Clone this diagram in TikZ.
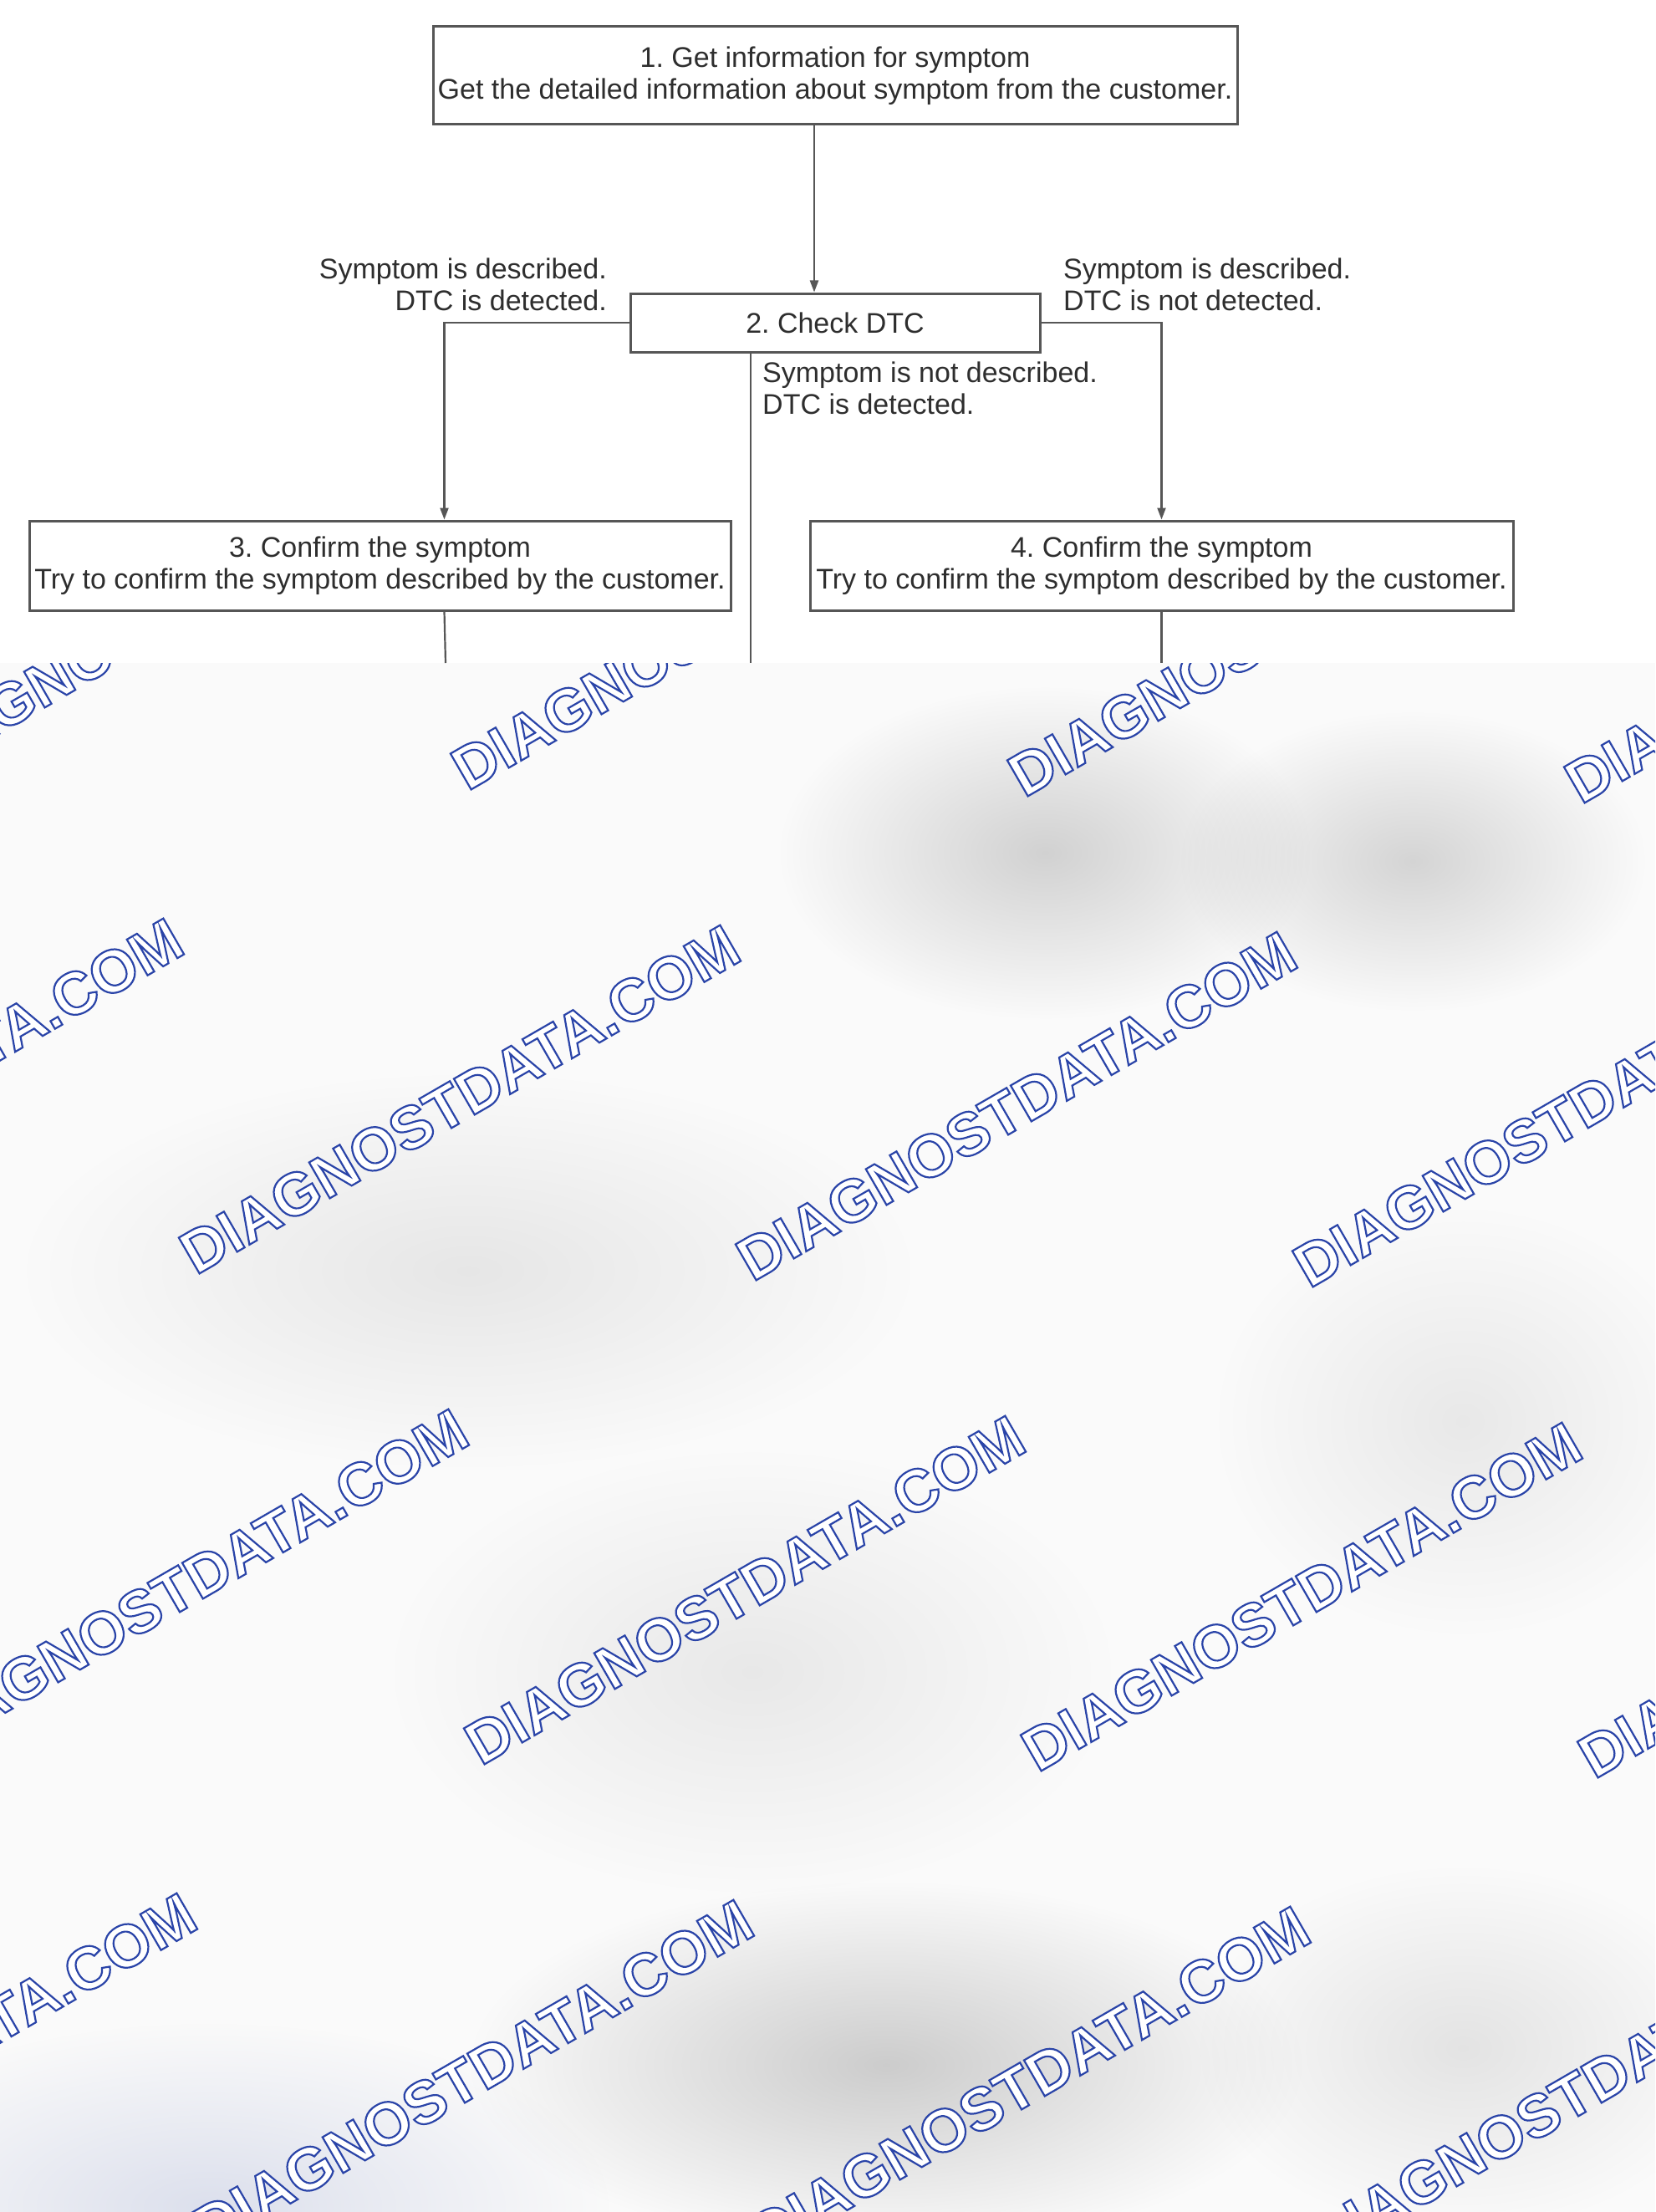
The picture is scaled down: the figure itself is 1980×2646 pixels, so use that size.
\documentclass[tikz,border=0pt]{standalone}
\usepackage{fontspec}
\setmainfont{Liberation Sans}
\usetikzlibrary{arrows.meta,calc,fadings}
\tikzfading[name=softblob, inner color=transparent!0, outer color=transparent!100]
\frenchspacing
\definecolor{txt}{HTML}{2E2E2E}
\definecolor{edge}{HTML}{565656}
\definecolor{bgc}{HTML}{FAFAFA}
\definecolor{blobb}{HTML}{B8C0DC}
\definecolor{wm}{HTML}{2A44A8}
\newcommand{\wmark}{\special{pdf:literal direct 2 Tr 2.2 w 0.165 0.267 0.659 RG}DIAGNOSTDATA.COM\special{pdf:literal direct 0 Tr}}
\begin{document}
\begin{tikzpicture}[x=1pt,y=-1pt,
  box/.style={draw=edge, line width=3pt, fill=white, text=txt, align=center, inner sep=0pt, font=\fontsize{34}{38}\selectfont},
  lbl/.style={text=txt, inner sep=0pt, font=\fontsize{34}{38}\selectfont},
  conn/.style={draw=edge, line width=2.2pt},
  arr/.style={conn, -{Triangle[length=14pt,width=10pt]}},
  blobfill/.style={fill=black, path fading=softblob},
  wmtext/.style={font=\fontsize{72}{72}\selectfont\bfseries, rotate=30, inner sep=0pt, text=white}]
\useasboundingbox (0,0) rectangle (1980,2646);
\fill[white] (0,0) rectangle (1980,793);
\fill[bgc] (0,793) rectangle (1980,2646);
\begin{scope}
\clip (0,793) rectangle (1980,2646);
\fill[blobfill, opacity=0.16] (1250,1020) ellipse (320 and 200);
\fill[blobfill, opacity=0.15] (1690,1030) ellipse (280 and 180);
\fill[blobfill, opacity=0.08] (560,1520) ellipse (540 and 240);
\fill[blobfill, opacity=0.07] (900,2000) ellipse (440 and 270);
\fill[blobfill, opacity=0.07] (1750,1700) ellipse (300 and 260);
\fill[blobfill, opacity=0.18] (1060,2470) ellipse (500 and 220);
\fill[blobb, path fading=softblob, opacity=0.45] (250,2640) ellipse (480 and 220);
\fill[blobfill, opacity=0.09] (1750,2450) ellipse (320 and 220);
\foreach \j in {-1,0,1,2}{
  \foreach \i in {-2,...,3}{
    \pgfmathsetmacro\cx{550+666*\i+341*\j}
    \pgfmathsetmacro\cy{1315+8*\i+587*\j}
    \node[wmtext] (w\i\j) at (\cx,\cy) {\wmark};
  }
}
\end{scope}
% boxes
\node[box, minimum width=962pt, minimum height=117pt] (b1) at (999,90.5) {1. Get information for symptom\\Get the detailed information about symptom from the customer.};
\node[box, minimum width=490pt, minimum height=70pt] (b2) at (999,386) {2. Check DTC};
\node[box, minimum width=839pt, minimum height=107pt] (b3) at (454.5,676.5) {3. Confirm the symptom\\Try to confirm the symptom described by the customer.};
\node[box, minimum width=841pt, minimum height=107pt] (b4) at (1389.5,676.5) {4. Confirm the symptom\\Try to confirm the symptom described by the customer.};
% labels
\node[lbl, anchor=east, align=right] (l1) at (726,340) {Symptom is described.\\DTC is detected.};
\node[lbl, anchor=west, align=left] (l2) at (1272,340) {Symptom is described.\\DTC is not detected.};
\node[lbl, anchor=west, align=left] (l3) at (912,464) {Symptom is not described.\\DTC is detected.};
% connectors
\coordinate (t3) at ($(b3.north west)+(498,0)$);
\coordinate (s3) at ($(b3.south west)+(498,0)$);
\coordinate (m1) at ($(b2.south)+(-101,0)$);
\coordinate (m2) at (898,793);
\coordinate (d3) at (533,793);
\coordinate (d4) at (1389.5,793);
\draw[arr] ($(b1.south)+(-25,0)$) -- ($(b2.north)+(-25,0)$);
\draw[arr] (b2.west) -| (t3);
\draw[arr] (b2.east) -| (b4.north);
\draw[conn] (m1) -- (m2);
\draw[conn] (s3) -- (d3);
\draw[conn] (b4.south) -- (d4);
\end{tikzpicture}
\end{document}
